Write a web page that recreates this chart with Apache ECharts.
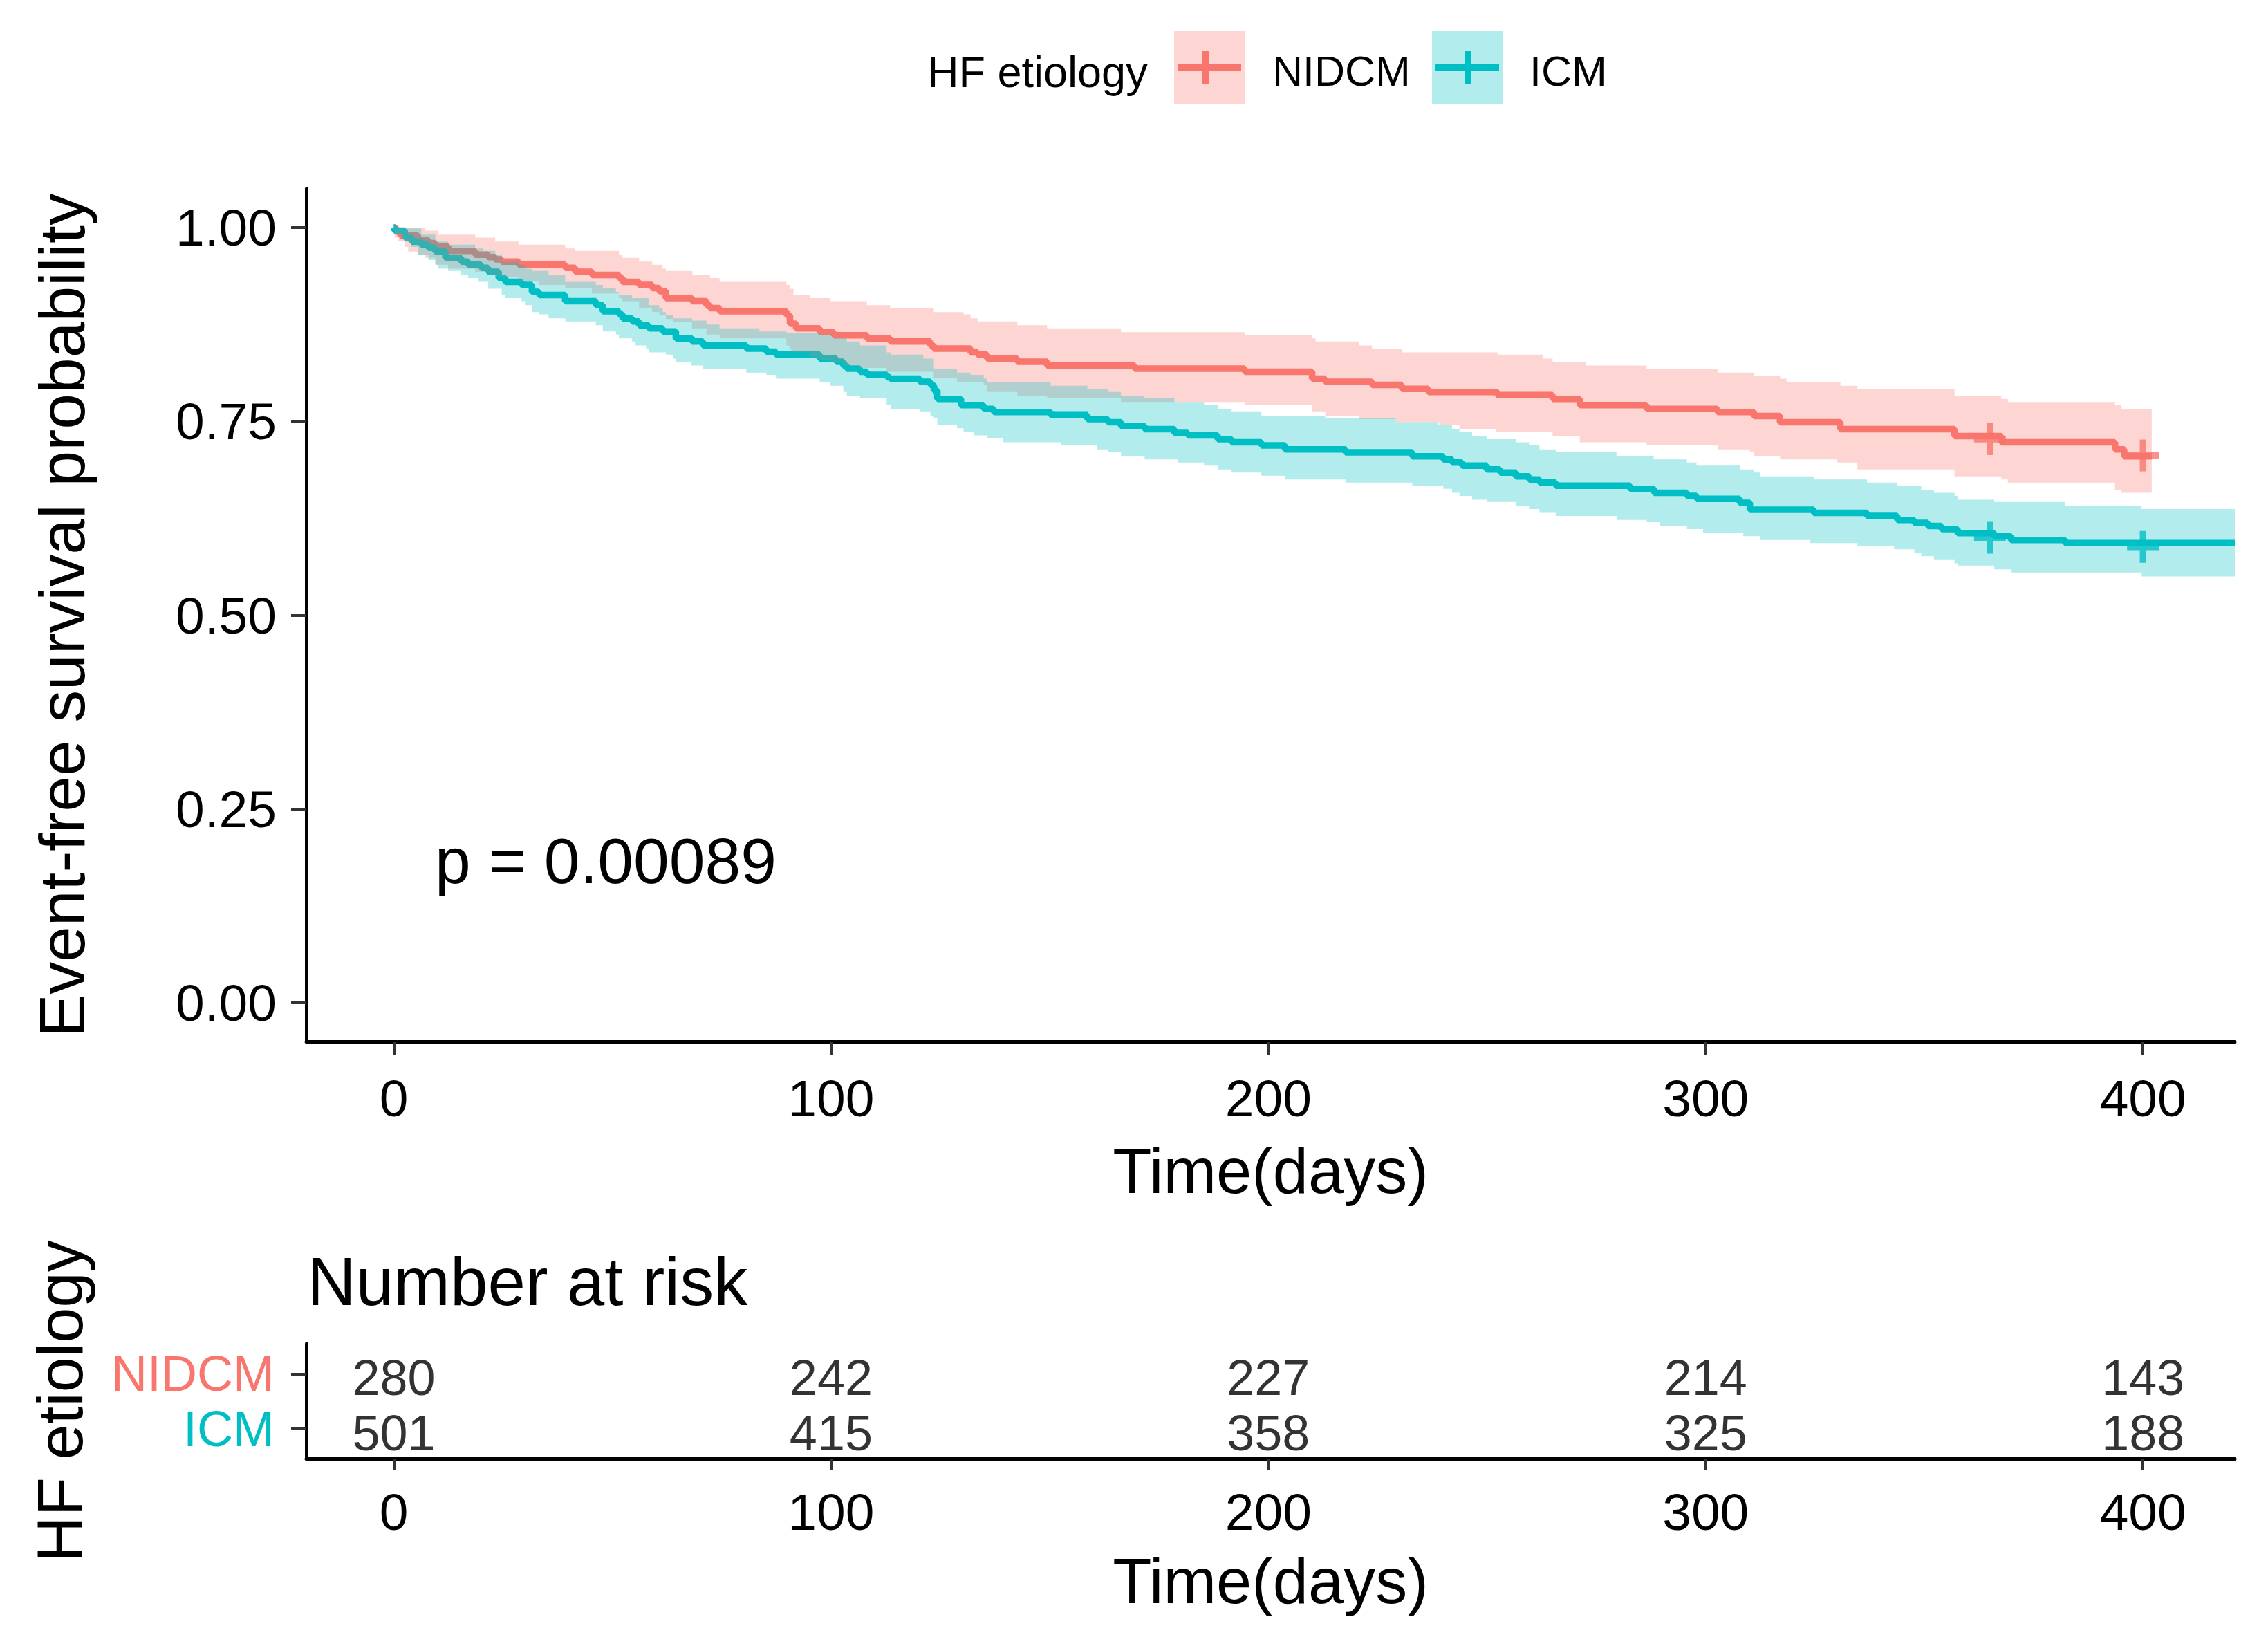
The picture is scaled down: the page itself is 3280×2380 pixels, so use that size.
<!DOCTYPE html>
<html><head><meta charset="utf-8">
<script src="https://cdn.jsdelivr.net/npm/echarts@6/dist/echarts.min.js"></script>
<style>html,body{margin:0;padding:0;background:#fff}#c{width:3280px;height:2380px}</style>
</head><body><div id="c"></div>
<script>
// ---------- data ----------
const groups = ['NIDCM', 'ICM'];
const legendTitle = 'HF etiology';
const nidcmSurv = [[0,1.000],[0.5,0.995],[1.5,0.990],[5.5,0.984],[7.9,0.980],[9.5,0.976],[12.4,0.970],[18.6,0.965],[21.6,0.962],[23.2,0.959],[24.7,0.956],[28.6,0.952],[39.2,0.948],[41.5,0.943],[45.3,0.939],[51.5,0.935],[52.3,0.930],[56.1,0.926],[59.1,0.922],[60.7,0.918],[62.2,0.909],[68.2,0.905],[71.5,0.900],[72.3,0.896],[74.5,0.892],[89.8,0.887],[90.6,0.876],[92.0,0.870],[97.4,0.865],[100.6,0.861],[108.2,0.857],[113.5,0.853],[122.7,0.848],[123.5,0.844],[131.9,0.839],[133.5,0.836],[135.7,0.831],[142.6,0.827],[149.4,0.822],[169.4,0.818],[194.6,0.814],[210.0,0.805],[213.0,0.801],[223.7,0.797],[230.5,0.792],[236.6,0.788],[252.4,0.784],[265.0,0.779],[271.2,0.771],[286.5,0.766],[302.7,0.762],[311.0,0.757],[317.0,0.749],[330.8,0.740],[356.9,0.731],[367.6,0.723],[393.6,0.714],[395.7,0.705],[402.0,0.705]];
const nidcmUpper = [[0,1.000],[5.5,0.999],[7.1,0.996],[10.1,0.991],[18.6,0.987],[23.2,0.982],[28.6,0.978],[39.2,0.973],[41.5,0.970],[51.5,0.965],[52.3,0.961],[56.1,0.956],[59.1,0.952],[61.5,0.947],[62.2,0.944],[68.3,0.939],[72.3,0.935],[74.5,0.930],[89.8,0.926],[90.6,0.921],[91.4,0.913],[95.2,0.909],[99.8,0.905],[108.2,0.900],[113.5,0.896],[123.5,0.891],[130.3,0.888],[131.9,0.883],[133.5,0.879],[142.6,0.874],[149.4,0.870],[166.3,0.865],[194.6,0.861],[210.0,0.857],[210.8,0.853],[220.7,0.848],[223.7,0.844],[230.5,0.839],[252.4,0.836],[262.8,0.831],[265.0,0.827],[272.7,0.822],[286.5,0.818],[302.7,0.813],[311.0,0.809],[317.0,0.805],[318.5,0.801],[330.8,0.796],[334.7,0.792],[356.9,0.783],[367.6,0.779],[369.1,0.775],[393.6,0.771],[395.1,0.766],[402.0,0.766]];
const nidcmLower = [[0,1.000],[0.2,0.987],[1.0,0.982],[2.5,0.975],[3.3,0.969],[5.5,0.965],[7.1,0.961],[9.5,0.952],[12.4,0.947],[18.6,0.943],[21.6,0.939],[23.2,0.936],[28.6,0.931],[33.2,0.926],[39.2,0.922],[45.3,0.915],[51.5,0.909],[52.3,0.905],[56.1,0.896],[59.1,0.891],[60.7,0.887],[62.2,0.882],[63.8,0.878],[68.2,0.870],[71.5,0.862],[74.5,0.857],[89.8,0.848],[90.6,0.844],[90.9,0.839],[95.2,0.833],[97.4,0.829],[99.8,0.827],[102.8,0.822],[106.6,0.819],[112.7,0.814],[123.5,0.806],[128.8,0.801],[134.9,0.797],[135.6,0.788],[142.6,0.783],[149.4,0.780],[166.3,0.775],[194.6,0.771],[210.0,0.762],[213.0,0.757],[220.7,0.753],[229.1,0.749],[239.1,0.745],[243.7,0.740],[252.1,0.736],[265.0,0.731],[271.2,0.723],[286.5,0.719],[302.7,0.714],[310.1,0.710],[311.0,0.705],[317.0,0.701],[330.1,0.697],[334.7,0.688],[356.9,0.679],[367.6,0.675],[369.1,0.671],[393.6,0.662],[395.1,0.658],[402.0,0.658]];
const icmSurv = [[0,1.000],[0.2,0.996],[2.5,0.987],[4.1,0.982],[6.3,0.978],[7.9,0.974],[9.5,0.969],[11.8,0.961],[15.4,0.956],[17.0,0.952],[20.0,0.948],[21.6,0.943],[24.0,0.935],[25.5,0.930],[29.2,0.926],[31.6,0.917],[33.2,0.913],[39.2,0.905],[46.2,0.900],[47.8,0.892],[51.5,0.888],[52.3,0.883],[54.5,0.879],[56.1,0.874],[58.3,0.870],[61.5,0.866],[64.5,0.857],[68.2,0.853],[70.7,0.848],[80.6,0.844],[85.2,0.840],[87.4,0.836],[97.4,0.831],[101.2,0.827],[102.8,0.822],[103.6,0.818],[106.6,0.814],[108.2,0.810],[112.8,0.807],[113.5,0.805],[120.3,0.801],[122.7,0.797],[123.5,0.790],[124.3,0.779],[129.7,0.771],[134.9,0.766],[137.2,0.762],[150.2,0.758],[158.6,0.753],[163.3,0.749],[166.3,0.744],[171.7,0.740],[178.5,0.735],[181.6,0.732],[188.4,0.727],[191.6,0.723],[198.4,0.719],[203.8,0.714],[217.6,0.710],[232.9,0.705],[240.0,0.701],[242.0,0.697],[244.3,0.693],[249.9,0.688],[253.0,0.684],[256.6,0.679],[259.6,0.675],[262.0,0.671],[265.7,0.667],[282.7,0.663],[288.2,0.658],[295.7,0.654],[297.9,0.650],[307.8,0.645],[310.1,0.636],[324.7,0.632],[336.9,0.628],[343.8,0.623],[347.7,0.619],[350.8,0.615],[353.9,0.611],[357.6,0.606],[366.0,0.602],[369.8,0.597],[382.2,0.593],[421.0,0.593]];
const icmUpper = [[0,1.000],[2.5,0.999],[6.3,0.991],[9.5,0.982],[12.4,0.978],[18.6,0.973],[20.5,0.970],[23.2,0.965],[24.7,0.956],[28.6,0.952],[30.0,0.947],[31.6,0.944],[35.4,0.939],[39.2,0.930],[46.2,0.926],[47.8,0.922],[50.8,0.917],[51.5,0.913],[54.5,0.909],[58.3,0.900],[60.7,0.896],[61.5,0.891],[62.2,0.887],[63.8,0.883],[68.2,0.880],[71.5,0.875],[74.5,0.870],[83.6,0.866],[89.8,0.864],[97.4,0.862],[100.5,0.857],[103.6,0.853],[106.6,0.848],[112.7,0.839],[113.6,0.836],[121.1,0.831],[123.5,0.818],[128.8,0.813],[131.9,0.810],[134.9,0.805],[135.6,0.801],[150.2,0.796],[158.6,0.792],[163.3,0.788],[166.3,0.783],[171.7,0.780],[178.5,0.775],[185.3,0.771],[188.4,0.766],[191.6,0.762],[198.4,0.757],[213.0,0.754],[229.1,0.749],[238.9,0.745],[242.0,0.740],[243.7,0.736],[246.6,0.731],[249.9,0.727],[256.6,0.723],[259.6,0.719],[262.0,0.714],[265.7,0.710],[279.6,0.705],[288.1,0.701],[295.7,0.697],[297.9,0.693],[307.8,0.688],[311.0,0.684],[312.5,0.679],[324.7,0.675],[336.9,0.671],[343.8,0.667],[349.3,0.662],[352.2,0.658],[356.9,0.654],[357.6,0.649],[366.0,0.646],[382.2,0.641],[399.7,0.637],[421.0,0.637]];
const icmLower = [[0,1.000],[0.5,0.992],[2.5,0.982],[4.0,0.975],[5.5,0.965],[7.9,0.958],[9.5,0.952],[10.2,0.947],[12.4,0.944],[15.4,0.939],[17.0,0.935],[19.4,0.930],[21.6,0.921],[24.7,0.913],[25.5,0.909],[29.2,0.905],[30.0,0.900],[31.6,0.891],[33.2,0.888],[35.4,0.883],[39.2,0.879],[46.2,0.874],[47.8,0.866],[50.8,0.862],[51.5,0.857],[54.5,0.853],[55.3,0.848],[57.7,0.844],[58.3,0.839],[62.2,0.836],[63.8,0.831],[64.5,0.827],[68.1,0.822],[70.7,0.818],[80.6,0.813],[85.2,0.810],[87.4,0.805],[97.4,0.801],[99.8,0.796],[102.8,0.788],[103.6,0.783],[106.6,0.780],[112.7,0.771],[113.6,0.766],[120.4,0.762],[122.7,0.757],[123.5,0.754],[124.3,0.745],[128.8,0.741],[130.3,0.736],[132.6,0.732],[135.6,0.728],[139.4,0.723],[152.6,0.719],[160.8,0.714],[163.3,0.710],[166.3,0.705],[171.7,0.701],[179.3,0.697],[185.3,0.693],[188.4,0.688],[191.6,0.684],[198.4,0.680],[203.8,0.675],[217.6,0.671],[232.9,0.667],[240.0,0.663],[242.0,0.658],[243.7,0.654],[246.6,0.649],[249.9,0.646],[256.6,0.641],[259.6,0.637],[262.0,0.632],[265.7,0.628],[279.6,0.623],[286.5,0.620],[289.5,0.615],[295.7,0.611],[299.4,0.606],[308.6,0.602],[312.5,0.597],[323.9,0.593],[334.7,0.589],[343.1,0.585],[347.7,0.580],[349.3,0.576],[352.2,0.572],[356.9,0.567],[357.6,0.564],[366.0,0.559],[369.8,0.555],[399.7,0.550],[421.0,0.550]];
const nidcmCensor = [[365, 0.727], [400, 0.706]];
const icmCensor = [[365, 0.600], [400, 0.588]];
const xTicks = [0, 100, 200, 300, 400];
const yTicks = [0, 0.25, 0.5, 0.75, 1];
const riskTimes = [0, 100, 200, 300, 400];
const riskNIDCM = [280, 242, 227, 214, 143];
const riskICM = [501, 415, 358, 325, 188];
const pValueText = 'p = 0.00089';

// ---------- style ----------
const RED = '#F8766D', TEAL = '#00BFC4';
const FF = '"Liberation Sans", Arial, sans-serif';
const PLUS = 'path://M4,0H6V10H4ZM0,4H10V6H0Z';

function stepPts(arr) {
  const pts = [];
  for (let i = 0; i < arr.length; i++) {
    if (i > 0) pts.push([arr[i][0], arr[i - 1][1]]);
    pts.push(arr[i]);
  }
  return pts;
}
function ribbon(name, upper, lower, fill) {
  return {
    type: 'custom', name: name + ' CI', xAxisIndex: 0, yAxisIndex: 0, z: 3, clip: true, silent: true,
    data: [[0, 0]],
    renderItem: function (params, api) {
      const up = stepPts(upper).map(p => api.coord(p));
      const lo = stepPts(lower).map(p => api.coord(p)).reverse();
      return { type: 'polygon', shape: { points: up.concat(lo) }, style: { fill: fill } };
    }
  };
}
const axisLineStyle = { show: true, onZero: false, lineStyle: { color: '#000', width: 5 } };
const riskLabel = { show: true, position: 'inside', offset: [0, 6], formatter: p => String(p.value[2]),
  fontSize: 72, lineHeight: 64, color: '#000', fontFamily: FF };

const chart = echarts.init(document.getElementById('c'), null, { renderer: 'svg', width: 3280, height: 2380 });
const option = {
  animation: false,
  backgroundColor: '#fff',
  textStyle: { fontFamily: FF },
  grid: [
    { left: 443, top: 273, right: 48, height: 1233 },
    { left: 443, top: 1943, right: 48, height: 166 }
  ],
  xAxis: [
    { type: 'value', gridIndex: 0, min: -20, max: 421,
      axisLine: axisLineStyle, splitLine: { show: false },
      axisTick: { show: true, length: 20, customValues: xTicks, lineStyle: { color: '#333', width: 4 } },
      axisLabel: { customValues: xTicks, fontSize: 75, color: '#000', margin: 44, fontFamily: FF },
      name: 'Time(days)', nameLocation: 'middle', nameGap: 187,
      nameTextStyle: { fontSize: 92, color: '#000', verticalAlign: 'middle', fontFamily: FF } },
    { type: 'value', gridIndex: 1, min: -20, max: 421,
      axisLine: axisLineStyle, splitLine: { show: false },
      axisTick: { show: true, length: 17, customValues: xTicks, lineStyle: { color: '#333', width: 4 } },
      axisLabel: { customValues: xTicks, fontSize: 75, color: '#000', margin: 39, fontFamily: FF },
      name: 'Time(days)', nameLocation: 'middle', nameGap: 177,
      nameTextStyle: { fontSize: 92, color: '#000', verticalAlign: 'middle', fontFamily: FF } }
  ],
  yAxis: [
    { type: 'value', gridIndex: 0, min: -0.05, max: 1.05,
      axisLine: axisLineStyle, splitLine: { show: false },
      axisTick: { show: true, length: 22, customValues: yTicks, lineStyle: { color: '#333', width: 4 } },
      axisLabel: { customValues: yTicks, fontSize: 75, color: '#000', margin: 43, fontFamily: FF,
        formatter: v => Number(v).toFixed(2) },
      name: 'Event-free survival probability', nameLocation: 'middle', nameGap: 353,
      nameTextStyle: { fontSize: 93, color: '#000', verticalAlign: 'middle', fontFamily: FF } },
    { type: 'value', gridIndex: 1, min: 0.45, max: 2.55,
      axisLine: axisLineStyle, splitLine: { show: false },
      axisTick: { show: true, length: 22, customValues: [1, 2], lineStyle: { color: '#333', width: 4 } },
      axisLabel: { customValues: [1, 2], fontSize: 72, margin: 46, fontFamily: FF,
        formatter: v => (Number(v) === 2 ? '{n|' + groups[0] + '}' : '{i|' + groups[1] + '}'),
        rich: { n: { color: RED, fontSize: 72, lineHeight: 64, fontFamily: FF }, i: { color: TEAL, fontSize: 72, lineHeight: 64, fontFamily: FF } } },
      name: legendTitle, nameLocation: 'middle', nameGap: 356,
      nameTextStyle: { fontSize: 92, color: '#000', verticalAlign: 'middle', fontFamily: FF } }
  ],
  series: [
    { type: 'line', name: groups[0], xAxisIndex: 0, yAxisIndex: 0, data: nidcmSurv, step: 'end',
      symbol: 'none', z: 2, lineStyle: { color: RED, width: 9.5 } },
    { type: 'line', name: groups[1], xAxisIndex: 0, yAxisIndex: 0, data: icmSurv, step: 'end',
      symbol: 'none', z: 2, lineStyle: { color: TEAL, width: 9.5 } },
    ribbon(groups[0], nidcmUpper, nidcmLower, 'rgba(248,118,109,0.3)'),
    ribbon(groups[1], icmUpper, icmLower, 'rgba(0,191,196,0.3)'),
    { type: 'scatter', name: groups[0] + ' censor', xAxisIndex: 0, yAxisIndex: 0, data: nidcmCensor,
      symbol: PLUS, symbolSize: 46, z: 4, itemStyle: { color: RED } },
    { type: 'scatter', name: groups[1] + ' censor', xAxisIndex: 0, yAxisIndex: 0, data: icmCensor,
      symbol: PLUS, symbolSize: 46, z: 4, itemStyle: { color: TEAL } },
    { type: 'scatter', name: 'risk ' + groups[0], xAxisIndex: 1, yAxisIndex: 1,
      data: riskTimes.map((t, i) => [t, 2, riskNIDCM[i]]), symbolSize: 1,
      itemStyle: { color: 'rgba(0,0,0,0)' }, label: riskLabel },
    { type: 'scatter', name: 'risk ' + groups[1], xAxisIndex: 1, yAxisIndex: 1,
      data: riskTimes.map((t, i) => [t, 1, riskICM[i]]), symbolSize: 1,
      itemStyle: { color: 'rgba(0,0,0,0)' }, label: riskLabel }
  ],
  graphic: [
    { type: 'text', left: 1341, top: 72, style: { text: legendTitle, fontSize: 63, fill: '#000', fontFamily: FF } },
    { type: 'rect', shape: { x: 1698, y: 45, width: 102, height: 106 }, style: { fill: 'rgba(248,118,109,0.3)' } },
    { type: 'rect', shape: { x: 1703, y: 93, width: 92, height: 10 }, style: { fill: RED } },
    { type: 'rect', shape: { x: 1739, y: 74, width: 9, height: 48 }, style: { fill: RED } },
    { type: 'text', left: 1840, top: 72, style: { text: groups[0], fontSize: 61, fill: '#000', fontFamily: FF } },
    { type: 'rect', shape: { x: 2071, y: 45, width: 102, height: 106 }, style: { fill: 'rgba(0,191,196,0.3)' } },
    { type: 'rect', shape: { x: 2076, y: 93, width: 92, height: 10 }, style: { fill: TEAL } },
    { type: 'rect', shape: { x: 2119, y: 74, width: 9, height: 48 }, style: { fill: TEAL } },
    { type: 'text', left: 2212, top: 72, style: { text: groups[1], fontSize: 61, fill: '#000', fontFamily: FF } },
    { type: 'text', x: 629, y: 1245, style: { text: pValueText, fontSize: 93, fill: '#000', fontFamily: FF, textVerticalAlign: 'middle' } },
    { type: 'text', x: 444, y: 1853, style: { text: 'Number at risk', fontSize: 98, fill: '#000', fontFamily: FF, textVerticalAlign: 'middle' } }
  ]
};
chart.setOption(option);
</script>
</body></html>
